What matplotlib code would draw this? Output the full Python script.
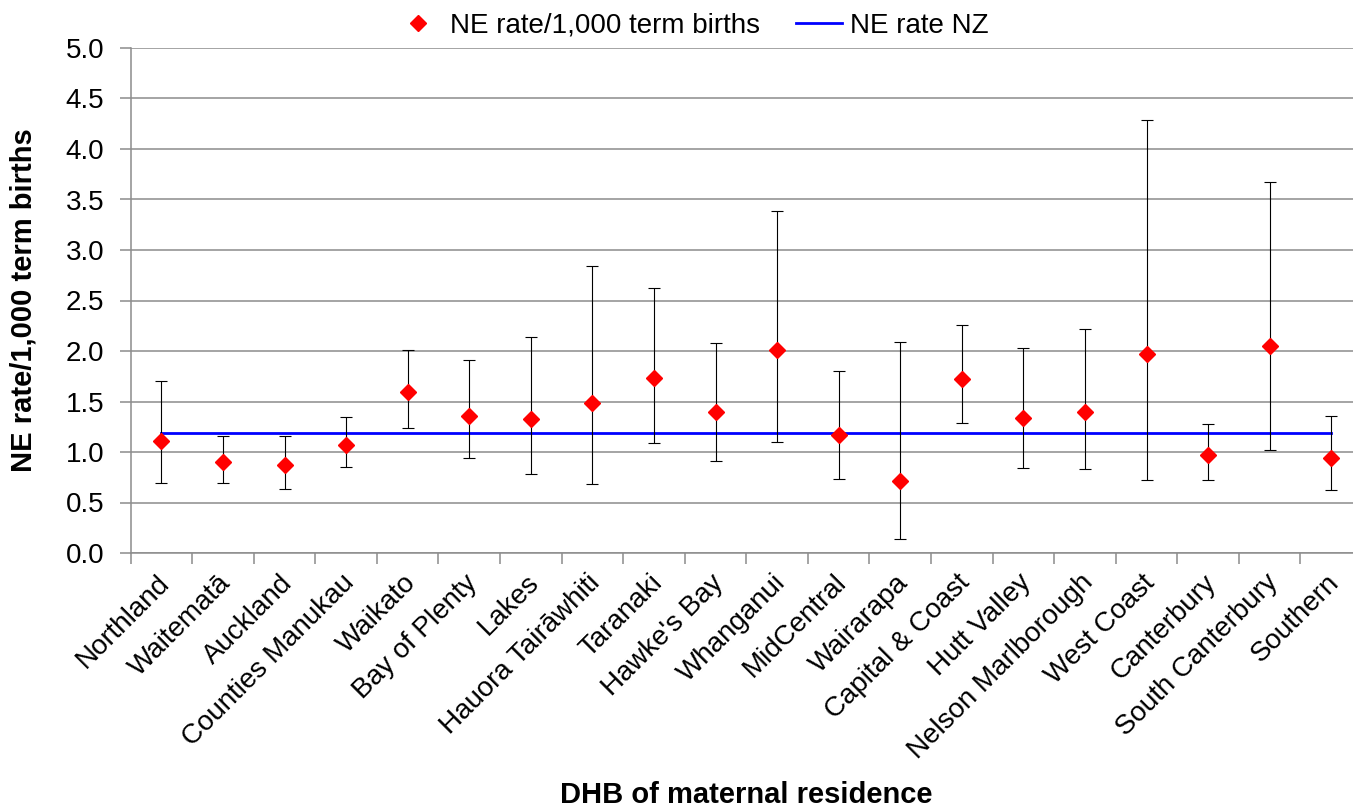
import numpy as np
import matplotlib
matplotlib.use('Agg')
import matplotlib.pyplot as plt
import matplotlib.transforms as mtransforms

plt.rcParams['font.family'] = ['Liberation Sans', 'DejaVu Sans']

dhbs = ['Northland', 'Waitematā', 'Auckland', 'Counties Manukau', 'Waikato',
        'Bay of Plenty', 'Lakes', 'Hauora Tairāwhiti', 'Taranaki', "Hawke's Bay",
        'Whanganui', 'MidCentral', 'Wairarapa', 'Capital & Coast', 'Hutt Valley',
        'Nelson Marlborough', 'West Coast', 'Canterbury', 'South Canterbury', 'Southern']
rate = [1.11, 0.90, 0.87, 1.07, 1.59, 1.36, 1.33, 1.49, 1.73, 1.40,
        2.01, 1.17, 0.71, 1.72, 1.34, 1.40, 1.97, 0.97, 2.05, 0.94]
upper = [1.70, 1.16, 1.16, 1.35, 2.01, 1.91, 2.14, 2.84, 2.62, 2.08,
         3.39, 1.80, 2.09, 2.26, 2.03, 2.22, 4.29, 1.28, 3.67, 1.36]
lower = [0.69, 0.69, 0.63, 0.85, 1.24, 0.94, 0.78, 0.68, 1.09, 0.91,
         1.10, 0.73, 0.14, 1.29, 0.84, 0.83, 0.72, 0.72, 1.02, 0.62]
nz_rate = 1.19

x = np.arange(len(dhbs))
rate = np.array(rate)
yerr = [rate - np.array(lower), np.array(upper) - rate]

fig = plt.figure(figsize=(13.53, 8.08), dpi=100)
ax = fig.add_axes([130.6 / 1353, 1 - 553 / 808, (1362 - 130.6) / 1353, 505 / 808])

grey = '#8c8c8c'
ax.set_axisbelow(True)
ax.yaxis.grid(True, color=grey, linewidth=1.1)
for s in ['top', 'right']:
    ax.spines[s].set_visible(False)
for s in ['left', 'bottom']:
    ax.spines[s].set_color(grey)
    ax.spines[s].set_linewidth(1.1)

ax.errorbar(x, rate, yerr=yerr, fmt='none', ecolor='black', elinewidth=0.8,
            capsize=4.3, capthick=0.8, zorder=3)
ax.plot(x, rate, 'D', color='#ff0000', markersize=7.7, linestyle='none',
        label='NE rate/1,000 term births', zorder=4)
ax.plot([x[0], x[-1]], [nz_rate, nz_rate], color='#0000ff', linewidth=2,
        label='NE rate NZ', zorder=2)

ax.set_xlim(-0.5, len(dhbs) - 0.5)
ax.set_ylim(0, 5)
ax.set_yticks(np.arange(0, 5.01, 0.5))
ax.set_yticklabels(['%.1f' % v for v in np.arange(0, 5.01, 0.5)], fontsize=20)
ax.set_xticks(np.arange(-0.5, len(dhbs), 1))
ax.set_xticklabels([])
ax.set_xticks(x, minor=True)
ax.set_xticklabels(dhbs, minor=True, rotation=45, ha='right', va='top',
                   rotation_mode='anchor', fontsize=20)
ax.tick_params(axis='x', which='minor', length=0, pad=12)
ax.tick_params(axis='both', which='major', color=grey, width=1.1, length=8)
ax.tick_params(axis='y', pad=11)

shift = mtransforms.ScaledTranslation(-5 / 100, 0, fig.dpi_scale_trans)
for lab in ax.get_xticklabels(minor=True):
    lab.set_transform(lab.get_transform() + shift)

ax.set_ylabel('NE rate/1,000 term births', fontsize=21, fontweight='bold')
ax.yaxis.set_label_coords((38 - 130.6) / 1231.4, 0.5)
fig.text(746 / 1353, 1 - 795 / 808, 'DHB of maternal residence', fontsize=21,
         fontweight='bold', ha='center', va='center')

fig.legend(loc='center', bbox_to_anchor=(692 / 1353, 1 - 26 / 808), ncol=2,
           frameon=False, fontsize=20, handlelength=1.65, columnspacing=1.3,
           handletextpad=0.3)

fig.savefig('out.png', dpi=100)
